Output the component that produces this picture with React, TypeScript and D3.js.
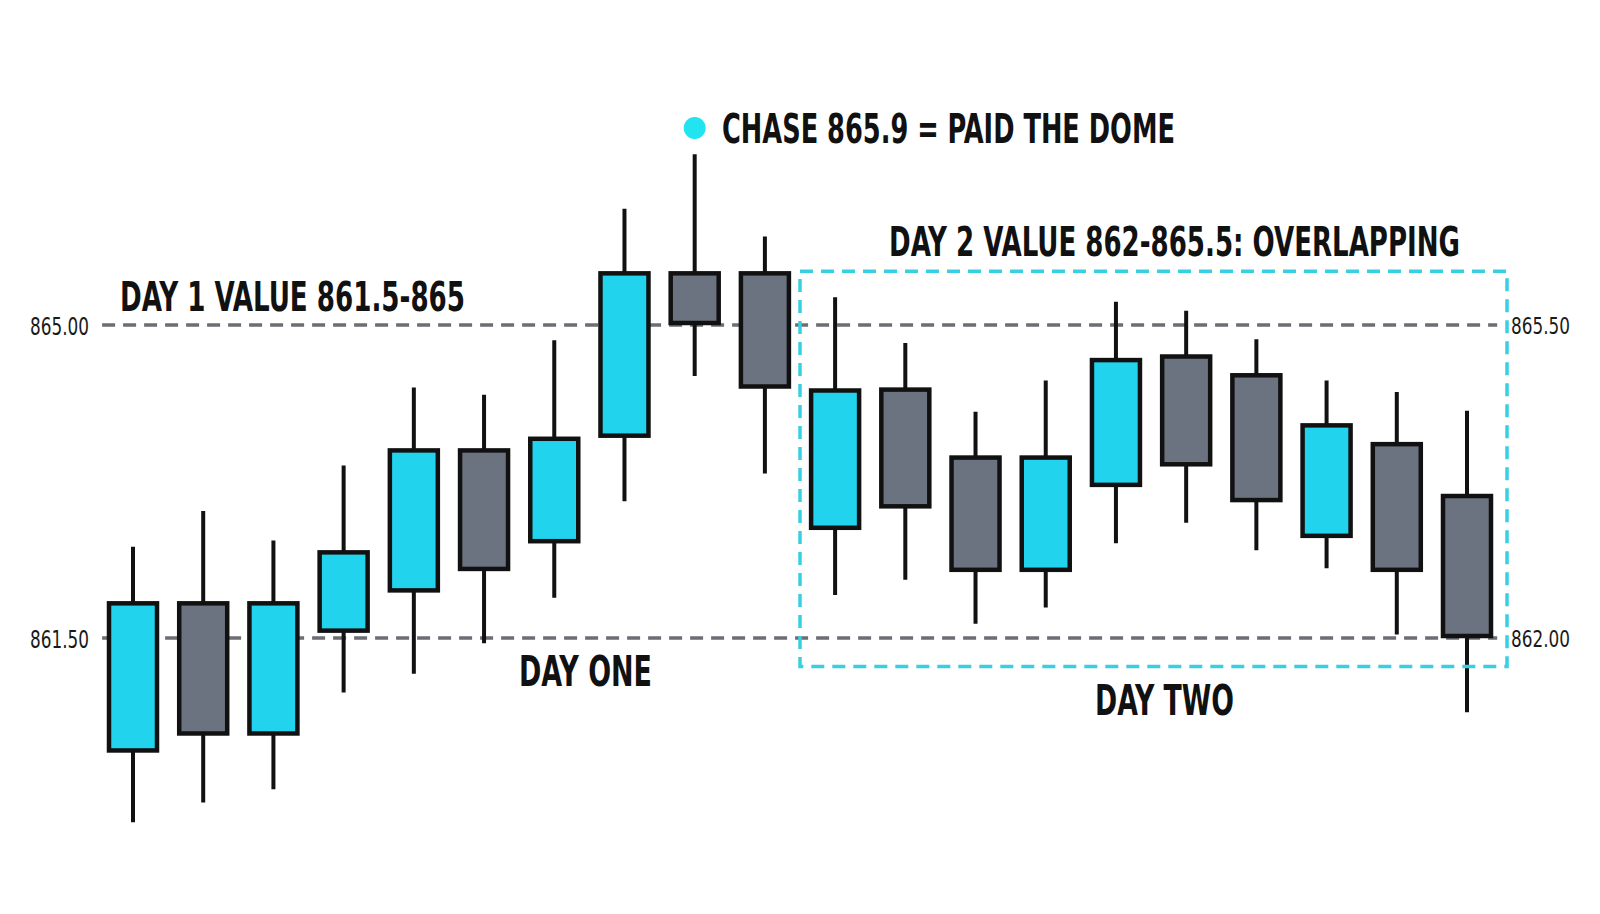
import React, { useEffect } from 'react';
import * as d3 from 'd3';

// candle values (left-axis units)
const opens = [860.22, 861.91, 860.41, 861.56, 862.01, 863.62, 862.56, 863.74, 865.6, 865.6,
  862.71, 864.3, 863.54, 862.24, 863.19, 864.67, 864.46, 862.62, 863.69, 863.11];
const highs = [862.52, 862.92, 862.59, 863.43, 864.3, 864.22, 864.83, 866.3, 866.91, 865.99,
  865.31, 864.8, 864.03, 864.38, 865.26, 865.16, 864.84, 864.38, 864.25, 864.04];
const lows = [859.44, 859.66, 859.81, 860.89, 861.1, 861.44, 861.95, 863.03, 864.43, 863.34,
  861.98, 862.15, 861.66, 861.84, 862.56, 862.79, 862.48, 862.28, 861.54, 860.67];
const closes = [861.91, 860.41, 861.91, 862.48, 863.62, 862.25, 863.75, 865.6, 865.0, 864.29,
  864.29, 862.95, 862.24, 863.54, 864.63, 863.42, 863.02, 863.9, 862.24, 861.5];

// value levels: left label / right label drawn on the same dashed line
const levels = [865, 861.5];
const leftLabels = ['865.00', '861.50'];
const rightLabels = ['865.50', '862.00'];

// day 2 overlapping value box
const day2Box = { first: 10, last: 19, top: 865.6, bottom: 861.18 };
const chaseIndex = 8;

const W = 1600;
const H = 914;
const UP = '#22d3ee';
const DOWN = '#6b7280';
const BOX = '#38cfe2';
const LEVEL = '#6b6e74';
const FONT = '"Liberation Sans Narrow", "DejaVu Sans Condensed", sans-serif';

const App: React.FC = () => {
  useEffect(() => {
    document.body.style.margin = '0';
  }, []);

  const idx = d3.range(opens.length);
  const x = d3.scalePoint<number>().domain(idx).range([133, 1467]);
  const step = x.step();
  const y = d3.scaleLinear().domain([861.5, 865]).range([638, 325]);
  const bodyW = 48;

  const lineX0 = x(0)! - step * 0.44;
  const lineX1 = x(idx.length - 1)! + step * 0.43;

  const boxX0 = x(day2Box.first)! - step / 2;
  const boxX1 = x(day2Box.last)! + step * 0.57;

  return (
    <svg width={W} height={H} style={{ display: 'block', background: '#fff' }}>
      {/* value level lines */}
      {levels.map((v, i) => (
        <g key={v}>
          <line x1={lineX0} x2={lineX1} y1={y(v)} y2={y(v)}
            stroke={LEVEL} strokeWidth={3.5} strokeDasharray="13 8" />
          <text x={89} y={y(v) + 9.5} textAnchor="end" fontFamily={FONT}
            fontSize={25} fill="#1a1a1a" textLength={59} lengthAdjust="spacingAndGlyphs">
            {leftLabels[i]}
          </text>
          <text x={1511} y={y(v) + 8.5} fontFamily={FONT}
            fontSize={23} fill="#1a1a1a" textLength={59} lengthAdjust="spacingAndGlyphs">
            {rightLabels[i]}
          </text>
        </g>
      ))}

      {/* wicks */}
      {idx.map(i => (
        <line key={'w' + i} x1={x(i)} x2={x(i)} y1={y(highs[i])} y2={y(lows[i])}
          stroke="#111" strokeWidth={4} />
      ))}

      {/* bodies */}
      {idx.map(i => {
        const top = y(Math.max(opens[i], closes[i]));
        const bot = y(Math.min(opens[i], closes[i]));
        return (
          <rect key={'b' + i} x={x(i)! - bodyW / 2} y={top + 2} width={bodyW}
            height={Math.max(bot - top - 4, 1)}
            fill={closes[i] > opens[i] ? UP : DOWN} stroke="#111" strokeWidth={4.5} />
        );
      })}

      {/* day 2 value box */}
      <rect x={boxX0} y={y(day2Box.top)} width={boxX1 - boxX0}
        height={y(day2Box.bottom) - y(day2Box.top)}
        fill="none" stroke={BOX} strokeWidth={3.5} strokeDasharray="13 8" />

      {/* annotations */}
      <circle cx={x(chaseIndex)} cy={128} r={11} fill="#22e4f1" />
      <text x={722} y={143} fontFamily={FONT} fontWeight="bold" fontSize={40}
        fill="#111" textLength={453} lengthAdjust="spacingAndGlyphs">
        CHASE 865.9 = PAID THE DOME
      </text>
      <text x={120} y={311} fontFamily={FONT} fontWeight="bold" fontSize={41}
        fill="#111" textLength={345} lengthAdjust="spacingAndGlyphs">
        DAY 1 VALUE 861.5-865
      </text>
      <g transform="translate(889,256) scale(1,1.37)">
        <text x={0} y={0} fontFamily={FONT} fontWeight="bold" fontSize={30}
          fill="#111" textLength={571} lengthAdjust="spacingAndGlyphs">
          DAY 2 VALUE 862-865.5: OVERLAPPING
        </text>
      </g>
      <text x={519} y={686} fontFamily={FONT} fontWeight="bold" fontSize={42}
        fill="#111" textLength={133} lengthAdjust="spacingAndGlyphs">
        DAY ONE
      </text>
      <text x={1095} y={715} fontFamily={FONT} fontWeight="bold" fontSize={42}
        fill="#111" textLength={139} lengthAdjust="spacingAndGlyphs">
        DAY TWO
      </text>
    </svg>
  );
};

export default App;
